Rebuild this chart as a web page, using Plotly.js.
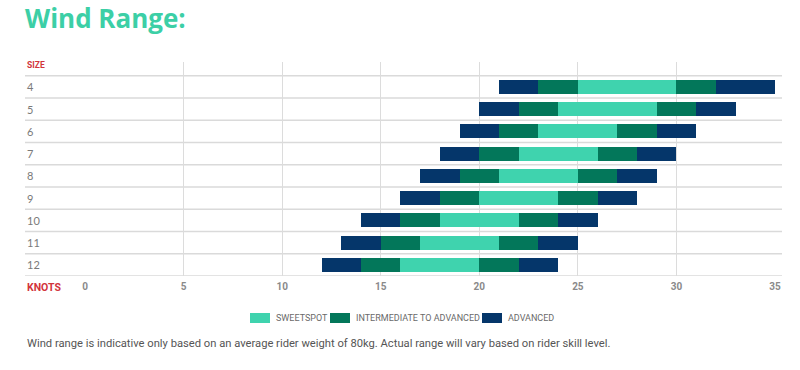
<!DOCTYPE html>
<html>
<head>
<meta charset="utf-8">
<script src="https://cdn.plot.ly/plotly-3.0.1.min.js"></script>
<style>html,body{margin:0;padding:0;background:#fff;}#chart{width:800px;height:370px;}</style>
</head>
<body>
<div id="chart"></div>
<script>
// Kite sizes (m²) and wind-range boundaries in knots
const sizes    = ['4','5','6','7','8','9','10','11','12'];
const advLo    = [21, 20, 19, 18, 17, 16, 14, 13, 12];
const intLo    = [23, 22, 21, 20, 19, 18, 16, 15, 14];
const sweetLo  = [25, 24, 23, 22, 21, 20, 18, 17, 16];
const sweetHi  = [30, 29, 27, 26, 25, 24, 22, 21, 20];
const intHi    = [32, 31, 29, 28, 27, 26, 24, 23, 22];
const advHi    = [35, 33, 31, 30, 29, 28, 26, 25, 24];
const xTicks   = [0, 5, 10, 15, 20, 25, 30, 35];
const seriesNames = ['SWEETSPOT', 'INTERMEDIATE TO ADVANCED', 'ADVANCED'];

const C_SWEET = '#3fd3ae', C_INT = '#03775a', C_ADV = '#05366a';
const seriesColors = [C_SWEET, C_INT, C_ADV];
const diff = (a, b) => a.map((v, i) => b[i] - v);

function seg(name, lo, hi, color) {
  return {
    type: 'bar', orientation: 'h', y: sizes, base: lo, x: diff(lo, hi),
    name: name, showlegend: false,
    marker: {color: color, line: {width: 0}}, width: 0.63,
    hoverinfo: 'skip'
  };
}

const traces = [
  seg(seriesNames[0], sweetLo, sweetHi, C_SWEET),
  seg(seriesNames[1], intLo, sweetLo, C_INT),
  seg(seriesNames[2], advLo, intLo, C_ADV),
  seg(seriesNames[1], sweetHi, intHi, C_INT),
  seg(seriesNames[2], intHi, advHi, C_ADV)
];

// pixel -> paper helpers (plot area: x 85..775, y 62..276)
const PL = 85, PW = 690, PB = 276, PH = 214;
const px = p => (p - PL) / PW;
const py = p => (PB - p) / PH;

const LEFT = px(25), RIGHT = px(782);
const shapes = [];
for (let i = 0; i <= sizes.length; i++) {
  shapes.push({type: 'line', xref: 'paper', yref: 'y', x0: LEFT, x1: RIGHT,
    y0: i - 0.5, y1: i - 0.5, line: {color: '#dadada', width: 1.5}, layer: 'below'});
}

const annotations = sizes.map((s, i) => ({
  xref: 'paper', yref: 'y', x: LEFT, y: i, text: s, showarrow: false,
  xanchor: 'left', yanchor: 'middle',
  font: {family: 'Lato, Roboto, sans-serif', size: 11, color: '#7a7a7a'}
}));
annotations.push({xref: 'paper', yref: 'y', x: LEFT, y: -1, text: 'SIZE', showarrow: false,
  xanchor: 'left', yanchor: 'middle',
  font: {family: 'Roboto, sans-serif', size: 8.5, color: '#d2343b', weight: 700}});
annotations.push({xref: 'paper', yref: 'paper', x: LEFT, y: py(287), text: 'KNOTS', showarrow: false,
  xanchor: 'left', yanchor: 'middle',
  font: {family: 'Roboto, sans-serif', size: 10.5, color: '#d2343b', weight: 700}});
annotations.push({xref: 'paper', yref: 'paper', x: LEFT, y: py(343),
  text: 'Wind range is indicative only based on an average rider weight of 80kg. Actual range will vary based on rider skill level.',
  showarrow: false, xanchor: 'left', yanchor: 'middle',
  font: {family: 'Roboto, sans-serif', size: 11.2, color: '#555'}});

// custom legend
const legendSwatchX = [250, 330, 482];
seriesNames.forEach((n, i) => {
  const x0 = legendSwatchX[i];
  shapes.push({type: 'rect', xref: 'paper', yref: 'paper', x0: px(x0), x1: px(x0 + 20),
    y0: py(323), y1: py(313), fillcolor: seriesColors[i], line: {width: 0}});
  annotations.push({xref: 'paper', yref: 'paper', x: px(x0 + 24), y: py(318), text: n,
    showarrow: false, xanchor: 'left', yanchor: 'middle',
    font: {family: 'Roboto, sans-serif', size: 9, color: '#6a6a6a'}});
});

const layout = {
  width: 800, height: 370,
  margin: {l: 85, r: 25, t: 62, b: 94},
  paper_bgcolor: '#fff', plot_bgcolor: '#fff',
  title: {text: 'Wind Range:', xref: 'container', yref: 'container', x: 25/800, xanchor: 'left',
    y: 1 - 19/370, yanchor: 'middle',
    font: {family: '"Open Sans", sans-serif', size: 26, weight: 700, color: '#3ccfa6'}},
  barmode: 'overlay',
  bargap: 0,
  showlegend: false,
  xaxis: {range: [0, 35], tickvals: xTicks, ticktext: xTicks.map(String), showgrid: true,
    gridcolor: '#dcdcdc', gridwidth: 1, zeroline: false, showline: false, ticks: '',
    ticklabelstandoff: 3,
    tickfont: {family: 'Roboto, sans-serif', size: 10, color: '#8a8a8a', weight: 700},
    fixedrange: true},
  yaxis: {type: 'category', range: [8.5, -1.12], showticklabels: false, showgrid: false,
    zeroline: false, showline: false, ticks: '', fixedrange: true},
  shapes: shapes,
  annotations: annotations
};

Plotly.newPlot('chart', traces, layout, {displayModeBar: false, staticPlot: true});
</script>
</body>
</html>
